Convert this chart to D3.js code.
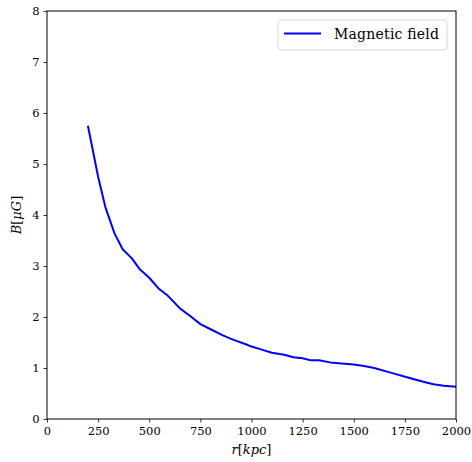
<!DOCTYPE html>
<html>
<head>
<meta charset="utf-8">
<script src="https://cdn.jsdelivr.net/npm/d3@7"></script>
<style>
  body { margin: 0; background: #fff; }
  svg text { font-family: "DejaVu Serif", serif; fill: #000; }
</style>
</head>
<body>
<svg id="chart" width="472" height="462"></svg>
<script>
// radius (kpc) and field strength (microgauss)
const radius = [200, 250, 285, 330, 370, 415, 455, 500, 545, 590, 650, 700, 750, 800, 860, 900, 975, 1000, 1050, 1100, 1160, 1205, 1250, 1290, 1330, 1385, 1440, 1500, 1550, 1600, 1680, 1760, 1840, 1890, 1940, 2000];
const field = [5.75, 4.75, 4.16, 3.64, 3.33, 3.15, 2.93, 2.77, 2.56, 2.42, 2.17, 2.02, 1.86, 1.76, 1.64, 1.57, 1.46, 1.42, 1.36, 1.30, 1.26, 1.21, 1.19, 1.15, 1.15, 1.11, 1.09, 1.07, 1.04, 1.00, 0.91, 0.82, 0.73, 0.68, 0.65, 0.63];
const xTicks = [0, 250, 500, 750, 1000, 1250, 1500, 1750, 2000];
const yTicks = [0, 1, 2, 3, 4, 5, 6, 7, 8];
const seriesName = 'Magnetic field';

const margin = {top: 11, right: 16, bottom: 43, left: 47};
const width = 472, height = 462;
const svg = d3.select('#chart');

const x = d3.scaleLinear().domain([0, 2000]).range([margin.left, width - margin.right]);
const y = d3.scaleLinear().domain([0, 8]).range([height - margin.bottom, margin.top]);

const xAxis = svg.append('g')
    .attr('transform', `translate(0,${height - margin.bottom})`)
    .call(d3.axisBottom(x).tickValues(xTicks).tickSize(3.5).tickPadding(4).tickFormat(d3.format('d')));
const yAxis = svg.append('g')
    .attr('transform', `translate(${margin.left},0)`)
    .call(d3.axisLeft(y).tickValues(yTicks).tickSize(3.5).tickPadding(4).tickFormat(d3.format('d')));
[xAxis, yAxis].forEach(g => {
    g.attr('font-family', null);
    g.select('.domain').remove();
    g.selectAll('text').style('font-size', '11.5px').attr('fill', '#000');
    g.selectAll('line').attr('stroke', '#000').attr('stroke-width', 0.8);
});

const line = d3.line()
    .x((d, i) => x(radius[i]))
    .y(d => y(d));

svg.append('path')
    .datum(field)
    .attr('fill', 'none')
    .attr('stroke', '#0000ff')
    .attr('stroke-width', 2)
    .attr('stroke-linejoin', 'round')
    .attr('d', line);

// frame
svg.append('rect')
    .attr('x', x(0))
    .attr('y', y(8))
    .attr('width', x(2000) - x(0))
    .attr('height', y(0) - y(8))
    .attr('fill', 'none')
    .attr('stroke', '#000')
    .attr('stroke-width', 1);

// axis labels, math style: italic symbols, upright brackets
function mathLabel(sel, parts) {
    parts.forEach(p => {
        sel.append('tspan')
            .style('font-style', p[1] ? 'italic' : 'normal')
            .text(p[0]);
    });
}

const xLabel = svg.append('text')
    .attr('x', (x(0) + x(2000)) / 2)
    .attr('y', 454)
    .attr('text-anchor', 'middle')
    .style('font-size', '13px');
mathLabel(xLabel, [['r', true], ['[', false], ['kpc', true], [']', false]]);

const yLabel = svg.append('text')
    .attr('transform', `translate(21,${(y(0) + y(8)) / 2}) rotate(-90)`)
    .attr('text-anchor', 'middle')
    .style('font-size', '13px');
mathLabel(yLabel, [['B', true], ['[', false], ['μG', true], [']', false]]);

// legend
const legend = svg.append('g');
legend.append('rect')
    .attr('x', 278)
    .attr('y', 20)
    .attr('width', 169)
    .attr('height', 30)
    .attr('rx', 3)
    .attr('fill', '#fff')
    .attr('stroke', '#d6d6d6')
    .attr('stroke-width', 1);
legend.append('line')
    .attr('x1', 284)
    .attr('x2', 321)
    .attr('y1', 33.5)
    .attr('y2', 33.5)
    .attr('stroke', '#0000ff')
    .attr('stroke-width', 2);
legend.append('text')
    .attr('x', 334)
    .attr('y', 39)
    .attr('textLength', 105)
    .attr('lengthAdjust', 'spacing')
    .style('font-size', '14px')
    .text(seriesName);
</script>
</body>
</html>
